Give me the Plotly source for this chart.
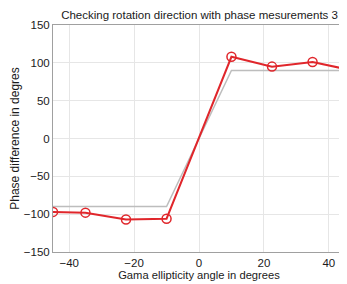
import plotly.graph_objects as go

x_meas = [-45, -35, -22.5, -10, 10, 22.5, 35, 45]
y_meas = [-97, -98, -107, -106, 108, 95, 101, 92]
x_ideal = [-45, -10, 10, 45]
y_ideal = [-90, -90, 90, 90]

fig = go.Figure()
fig.add_trace(go.Scatter(x=x_ideal, y=y_ideal, mode="lines",
                         line=dict(color="#bdbdbd", width=1.5), showlegend=False))
fig.add_trace(go.Scatter(x=x_meas, y=y_meas, mode="lines+markers",
                         line=dict(color="#e0262b", width=2),
                         marker=dict(symbol="circle-open", size=9, color="#e0262b",
                                     line=dict(width=1.5)),
                         showlegend=False))

axis_common = dict(showgrid=True, gridcolor="#e6e6e6", gridwidth=1,
                   showline=True, linecolor="#a0a0a0", linewidth=1, mirror=True,
                   zeroline=False, ticks="", automargin=False,
                   tickfont=dict(size=11.5, color="#1a1a1a"))

# page body has an 8px margin, so the figure is sized to fit the remaining viewport
fig.update_layout(
    width=339, height=276,
    margin=dict(l=45, r=2, t=17, b=32, autoexpand=False),
    paper_bgcolor="white", plot_bgcolor="white",
    font=dict(family="Liberation Sans, Arial, sans-serif", color="#1a1a1a"),
    title=dict(text="Checking rotation direction with phase mesurements 3",
               x=0.565, xanchor="center", y=0.975, yanchor="middle",
               font=dict(size=11.5, color="#1a1a1a")),
    xaxis=dict(range=[-45, 45], tickvals=[-40, -20, 0, 20, 40],
               title=dict(text="Gama ellipticity angle in degrees", font=dict(size=11.2), standoff=0),
               **axis_common),
    yaxis=dict(range=[-150, 150], tickvals=[-150, -100, -50, 0, 50, 100, 150],
               title=dict(text="Phase difference in degres", font=dict(size=12), standoff=1),
               **axis_common),
)

fig.write_html("out.html")
